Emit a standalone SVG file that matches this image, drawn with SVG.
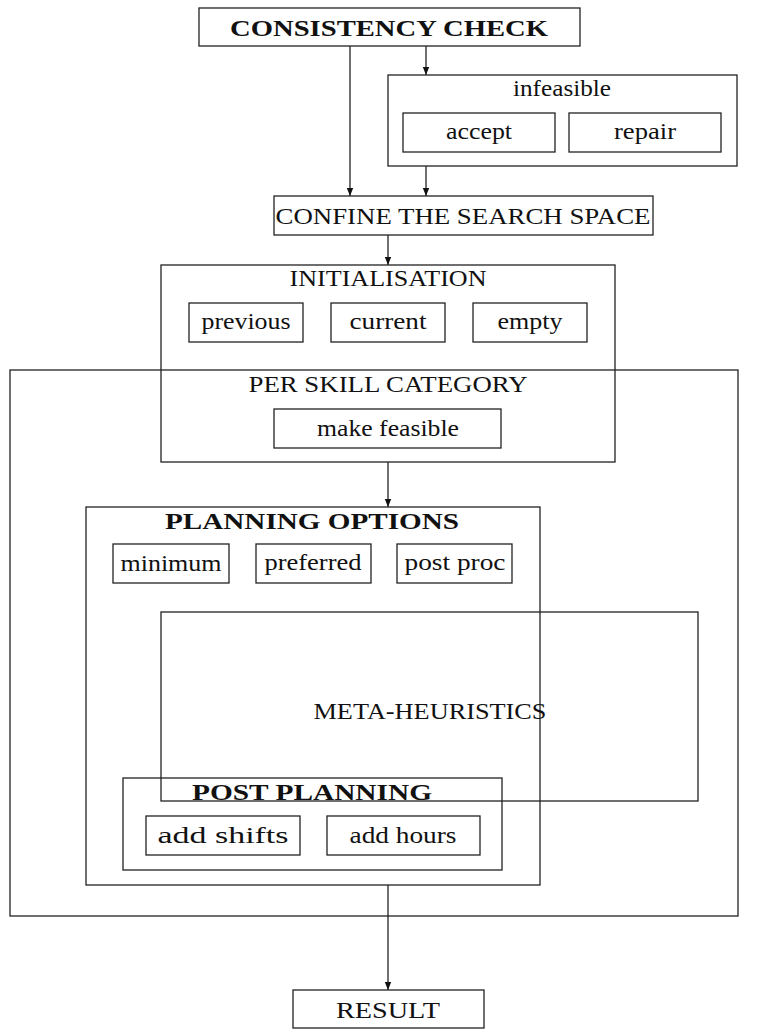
<svg xmlns="http://www.w3.org/2000/svg" width="767" height="1036" viewBox="0 0 767 1036">
<defs>
<style>
rect{fill:none;stroke:#222;stroke-width:1.3}
text{font-family:"Liberation Serif","DejaVu Serif",serif;font-size:24px;fill:#111;text-anchor:middle}
.b{font-weight:bold}
.c{stroke:#111;stroke-width:1.2;fill:none;marker-end:url(#ah)}
</style>
<marker id="ah" viewBox="0 0 10 10" refX="10" refY="5" markerWidth="8" markerHeight="8" markerUnits="userSpaceOnUse" orient="auto">
<path d="M0,1 L10,5 L0,9 Z" fill="#111"/>
</marker>
</defs>
<rect width="767" height="1036" style="fill:#fff;stroke:none"/>
<g id="connectors">
<line class="c" x1="350" y1="46" x2="350" y2="196"/>
<line class="c" x1="426" y1="46" x2="426" y2="75"/>
<line class="c" x1="426" y1="166" x2="426" y2="196"/>
<line class="c" x1="388" y1="235" x2="388" y2="265"/>
<line class="c" x1="388" y1="462" x2="388" y2="507"/>
<line class="c" x1="388" y1="885" x2="388" y2="990"/>
</g>
<g id="consistency-check"><rect x="199" y="8" width="381" height="38"/><text class="b" x="389" y="36" textLength="318" lengthAdjust="spacingAndGlyphs">CONSISTENCY CHECK</text></g>
<g id="infeasible"><rect x="388" y="75" width="349" height="91"/><text x="562" y="96" textLength="98" lengthAdjust="spacingAndGlyphs">infeasible</text></g>
<g id="accept"><rect x="403" y="113" width="152" height="39"/><text x="479" y="139" textLength="66" lengthAdjust="spacingAndGlyphs">accept</text></g>
<g id="repair"><rect x="569" y="113" width="152" height="39"/><text x="645" y="139" textLength="62" lengthAdjust="spacingAndGlyphs">repair</text></g>
<g id="confine"><rect x="274" y="196" width="379" height="39"/><text x="463" y="224" textLength="375" lengthAdjust="spacingAndGlyphs">CONFINE THE SEARCH SPACE</text></g>
<g id="initialisation"><rect x="161" y="265" width="454" height="197"/><text x="388" y="286" textLength="197" lengthAdjust="spacingAndGlyphs">INITIALISATION</text></g>
<g id="previous"><rect x="189" y="303" width="114" height="39"/><text x="246" y="329" textLength="89" lengthAdjust="spacingAndGlyphs">previous</text></g>
<g id="current"><rect x="331" y="303" width="114" height="39"/><text x="388" y="329" textLength="77" lengthAdjust="spacingAndGlyphs">current</text></g>
<g id="empty"><rect x="473" y="303" width="114" height="39"/><text x="530" y="329" textLength="65" lengthAdjust="spacingAndGlyphs">empty</text></g>
<g id="per-skill-category"><rect x="10" y="370" width="728" height="546"/><text x="388" y="392" textLength="279" lengthAdjust="spacingAndGlyphs">PER SKILL CATEGORY</text></g>
<g id="make-feasible"><rect x="274" y="409" width="227" height="39"/><text x="388" y="436" textLength="142" lengthAdjust="spacingAndGlyphs">make feasible</text></g>
<g id="planning-options"><rect x="86" y="507" width="454" height="378"/><text class="b" x="312" y="529" textLength="294" lengthAdjust="spacingAndGlyphs">PLANNING OPTIONS</text></g>
<g id="minimum"><rect x="113" y="544" width="116" height="39"/><text x="171" y="571" textLength="101" lengthAdjust="spacingAndGlyphs">minimum</text></g>
<g id="preferred"><rect x="256" y="544" width="115" height="39"/><text x="313" y="570" textLength="97" lengthAdjust="spacingAndGlyphs">preferred</text></g>
<g id="post-proc"><rect x="397" y="544" width="115" height="39"/><text x="455" y="570" textLength="101" lengthAdjust="spacingAndGlyphs">post proc</text></g>
<g id="meta-heuristics"><rect x="161" y="612" width="537" height="189"/><text x="430" y="719" textLength="233" lengthAdjust="spacingAndGlyphs">META-HEURISTICS</text></g>
<g id="post-planning"><rect x="123" y="778" width="379" height="92"/><text class="b" x="312" y="800" textLength="240" lengthAdjust="spacingAndGlyphs">POST PLANNING</text></g>
<g id="add-shifts"><rect x="146" y="816" width="154" height="39"/><text x="223" y="843" textLength="131" lengthAdjust="spacingAndGlyphs">add shifts</text></g>
<g id="add-hours"><rect x="327" y="816" width="153" height="39"/><text x="403" y="843" textLength="107" lengthAdjust="spacingAndGlyphs">add hours</text></g>
<g id="result"><rect x="293" y="990" width="191" height="38"/><text x="388" y="1018" textLength="104" lengthAdjust="spacingAndGlyphs">RESULT</text></g>
</svg>
